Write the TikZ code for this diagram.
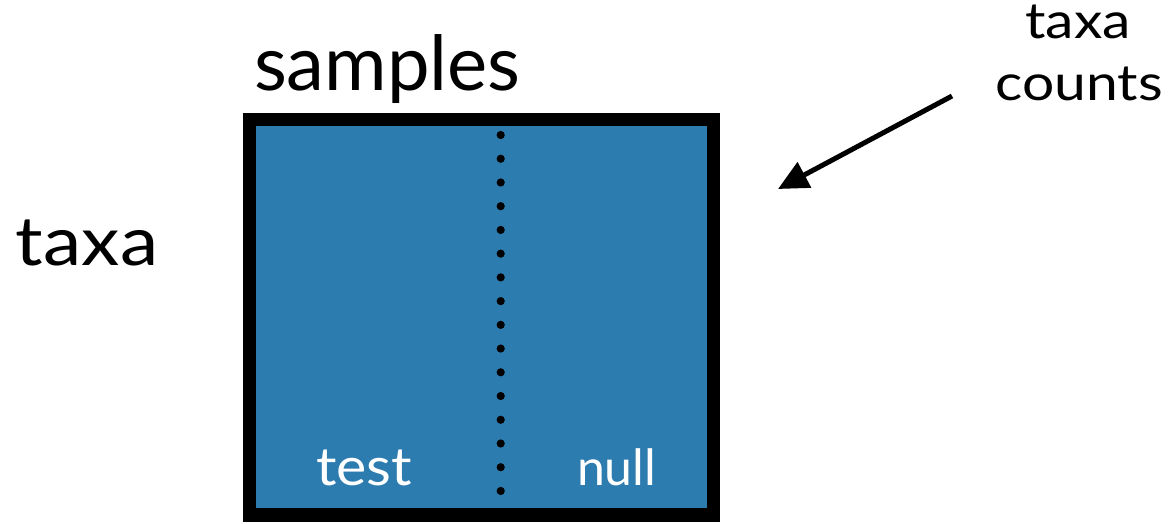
\documentclass[tikz,border=0pt]{standalone}
\usepackage{fontspec}
\setmainfont{Lato}
\usetikzlibrary{arrows.meta}
\definecolor{matrixblue}{RGB}{45,124,176}
\tikzset{
  label text/.style={inner sep=0pt, outer sep=0pt, anchor=base west, text=black},
  matrixbox/.style={draw=black, line width=13.5pt, fill=matrixblue, inner sep=0pt, outer sep=0pt,
    minimum width=463.8pt, minimum height=395.5pt},
  sepdot/.style={fill=black, draw=none},
  pointer/.style={line width=5pt, -{Triangle[length=30pt,width=28pt]}}
}
\begin{document}
\begin{tikzpicture}[x=1pt,y=-1pt]
  \useasboundingbox (0,0) rectangle (1176,523);
  % the count matrix
  \node[matrixbox] (matrix) at (481.4,317.25) {};
  % dotted divider between the two sample groups
  \foreach \k in {0,...,15}
    \fill[sepdot] (500.7,{135+\k*23.73}) circle (4.1);
  % axis labels
  \node[label text, font=\fontsize{76}{76}\selectfont] (samples) at (254,90) {samples};
  \node[label text, font=\fontsize{68}{68}\selectfont] (taxa) at (16,265) {\scalebox{1.13}[1]{taxa}};
  % group labels
  \node[label text, text=white, font=\fontsize{53}{53}\selectfont] (test) at (316,485) {\scalebox{1.08}[1]{test}};
  \node[label text, text=white, font=\fontsize{50}{50}\selectfont] (null) at (577,485) {null};
  % annotation
  \node[inner sep=0pt, anchor=base, font=\fontsize{50}{50}\selectfont] (taxaword) at (1078,38) {\scalebox{1.14}[1]{taxa}};
  \node[inner sep=0pt, anchor=base, font=\fontsize{50}{50}\selectfont] (counts) at (1079,100) {\scalebox{1.14}[1]{counts}};
  \coordinate (arrowtail) at (952,96);
  \coordinate (arrowtip) at (778,189);
  \draw[pointer] (arrowtail) -- (arrowtip);
\end{tikzpicture}
\end{document}
